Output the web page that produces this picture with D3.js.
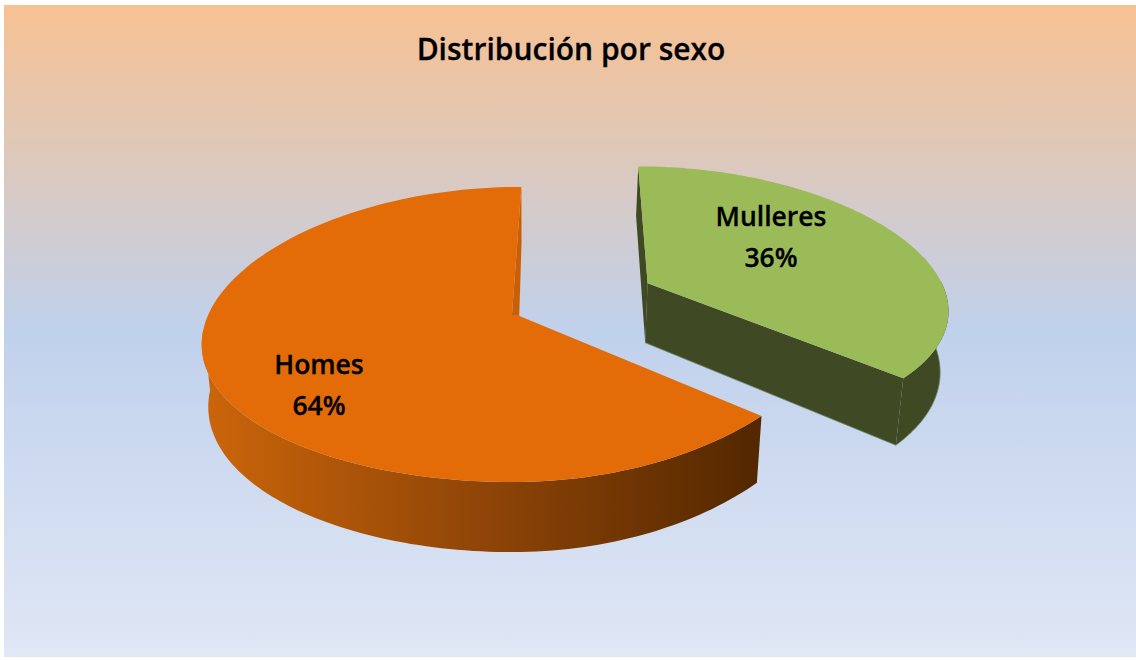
<!DOCTYPE html>
<html><head><meta charset="utf-8">
<script src="https://cdn.jsdelivr.net/npm/d3@7/dist/d3.min.js"></script>
<style>html,body{margin:0;padding:0;background:#fff}svg{display:block}</style>
</head><body><svg id="c" width="1136" height="660"></svg>
<script>
const title = "Distribución por sexo";
const categories = ["Mulleres", "Homes"];
const shares = [36, 64];
const svg = d3.select("#c");
const defs = svg.append("defs");
const bg = defs.append("linearGradient").attr("id","bg").attr("x1",0).attr("x2",0).attr("y1",0).attr("y2",1);
[[0,"#f7c192"],[0.5,"#c0d1ec"],[1,"#e0e7f5"]].forEach(s=>bg.append("stop").attr("offset",s[0]).attr("stop-color",s[1]));
const wallG = defs.append("linearGradient").attr("id","wallH").attr("gradientUnits","userSpaceOnUse").attr("x1",205).attr("x2",760).attr("y1",0).attr("y2",0);
[[0,"#cb650a"],[0.5,"#8f4507"],[1,"#532700"]].forEach(s=>wallG.append("stop").attr("offset",s[0]).attr("stop-color",s[1]));
svg.append("rect").attr("x",4).attr("y",5).attr("width",1132).attr("height",652).attr("fill","url(#bg)");

const cx=517, cy=315, Ry=145, k=0.132;
function project(sl,ur,v,h){
  const u=sl.du+ur;
  const s=1/(1-k*v), sX=1/(1-sl.kx*v);
  let x=cx+(sl.Rx*u+sl.sh*v)*sX;
  const bulge=Math.max(0,sl.side*ur);
  let y=cy+Ry*v*s+sl.tilt*bulge*bulge;
  x=530+(x-530)*(1-0.02*h);
  y=y+h*(62+sl.slope*v*s);
  return [x,y];
}
const pie=d3.pie().sort(null)(shares);
const slices=[
 {i:0,du:0.435,dv:-0.225,rv:0.96,Rx:306,kx:0.132,sh:-6,tilt:7,side:1,slope:12,notch:0,top:"#9bbb59",wall:"#3f4a24",stroke:"#6f8a68",edge:"#3f4a24"},
 {i:1,du:0,dv:0,rv:1,Rx:315,kx:0.03,sh:-4.5,tilt:23,side:-1,slope:7,notch:-0.016,top:"#e36c09",wall:"url(#wallH)",stroke:"none",edge:"#c85f08"}
];
const line=d3.line();
slices.slice().reverse().forEach(sl=>{
  const a=pie[sl.i];
  const angs=d3.range(0,161).map(t=>a.startAngle+(a.endAngle-a.startAngle)*t/160);
  const front=angs.filter(t=>Math.cos(t)<0.08);
  const P=(ang,h)=>project(sl,Math.sin(ang),sl.dv-sl.rv*Math.cos(ang),h);
  const C=(h)=>project(sl,0,sl.dv,h);
  const N=project(sl,sl.notch,sl.dv,0);
  const g=svg.append("g");
  const sideWall=(ang,first)=>g.append("path").attr("d",line([first,P(ang,0),P(ang,1),C(1)])+"Z").attr("fill",sl.edge);
  g.append("path").attr("d",line(front.map(t=>P(t,0)).concat(front.slice().reverse().map(t=>P(t,1))))+"Z").attr("fill",sl.wall);
  if(sl.i===0){
    sideWall(a.startAngle,C(0));sideWall(a.endAngle,C(0));
    g.append("path").attr("d",line(front.map(t=>P(t,1)).concat([C(1)]))).attr("fill","none").attr("stroke",sl.stroke).attr("stroke-width",0.8);
  } else { sideWall(a.endAngle,N); }
  g.append("path").attr("d",line([C(0)].concat(angs.map(t=>P(t,0))).concat([N]))+"Z").attr("fill",sl.top);
});
const font='"Open Sans"';
svg.append("text").attr("x",571).attr("y",60).attr("text-anchor","middle").attr("font-family",font).attr("font-weight",600).attr("font-size",30).attr("fill","#000").attr("stroke","#000").attr("stroke-width",0.3).text(title);
const labelPos=[[771,226,267],[319,374,415]];
categories.forEach((c,i)=>{
  const t=svg.append("text").attr("text-anchor","middle").attr("font-family",font).attr("font-weight",600).attr("font-size",26.5).attr("fill","#000").attr("stroke","#000").attr("stroke-width",0.3);
  t.append("tspan").attr("x",labelPos[i][0]).attr("y",labelPos[i][1]).text(c);
  t.append("tspan").attr("x",labelPos[i][0]).attr("y",labelPos[i][2]).text(shares[i]+"%");
});
</script></body></html>
